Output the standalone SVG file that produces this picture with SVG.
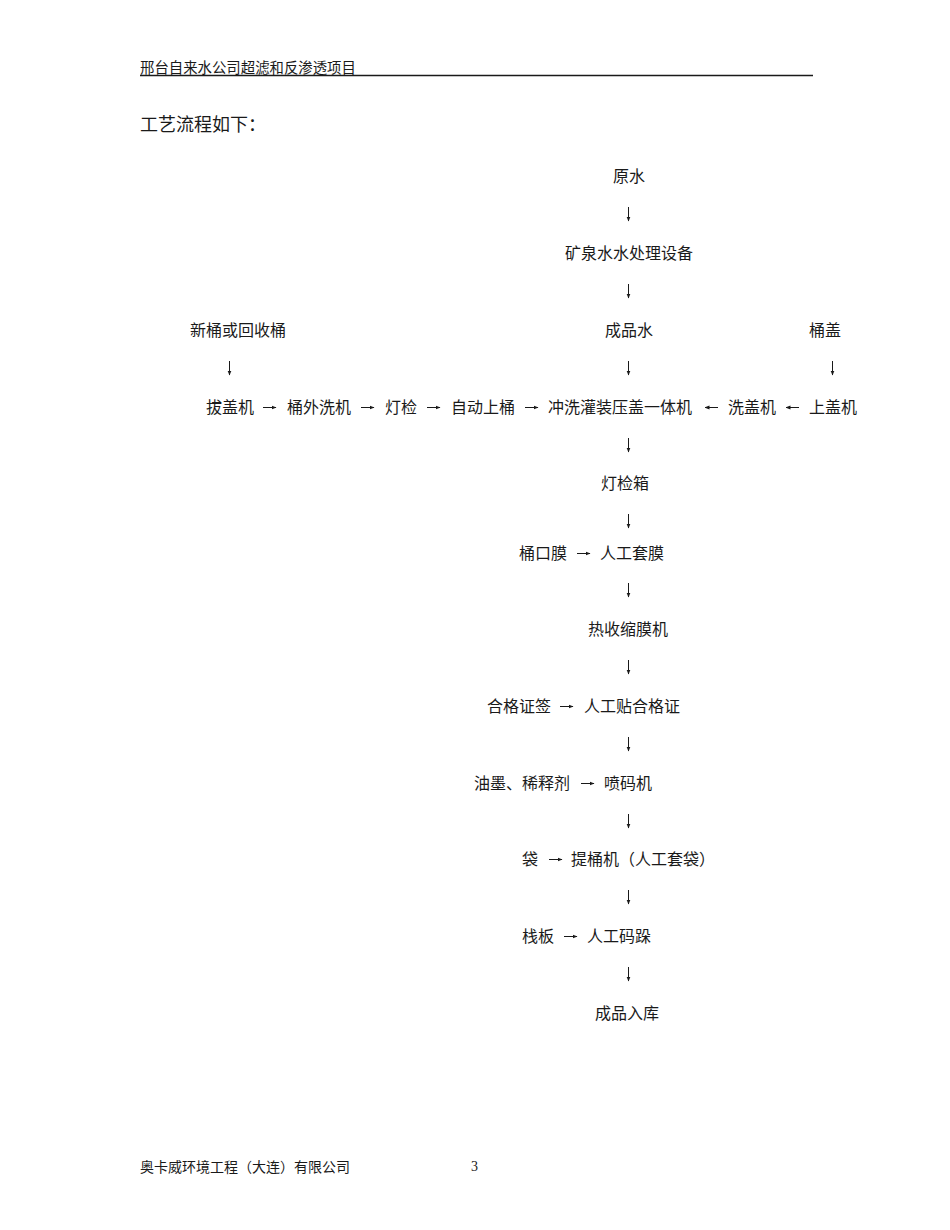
<svg xmlns="http://www.w3.org/2000/svg" width="950" height="1230" viewBox="0 0 950 1230">
<style>
.t{font-family:"Liberation Serif","Noto Sans CJK SC",serif;font-size:16px;fill:#1a1a1a}
.h{font-family:"Noto Sans CJK SC",sans-serif;font-size:14.4px;fill:#1a1a1a}
.ti{font-family:"Liberation Serif","Noto Sans CJK SC",serif;font-size:18px;fill:#1a1a1a}
.f{font-family:"Liberation Serif","Noto Sans CJK SC",serif;font-size:14px;fill:#1a1a1a}
.c{stroke:#1a1a1a;stroke-width:1;fill:none;marker-end:url(#ah)}
</style>
<defs>
<marker id="ah" viewBox="0 0 10 10" refX="9" refY="5" markerWidth="5" markerHeight="5" markerUnits="userSpaceOnUse" orient="auto">
<path d="M0,1 L10,5 L0,9 Z" fill="#1a1a1a"/>
</marker>
</defs>
<rect width="950" height="1230" fill="#fff"/>
<g id="header">
<text class="h" x="140" y="73">邢台自来水公司超滤和反渗透项目</text>
<line x1="140" y1="75.5" x2="813" y2="75.5" stroke="#1a1a1a" stroke-width="1.6"/>
</g>
<g id="title"><text class="ti" x="140" y="131">工艺流程如下：</text></g>
<g id="n-yuanshui"><text class="t" x="613" y="182">原水</text></g>
<g id="n-shebei"><text class="t" x="565" y="259">矿泉水水处理设备</text></g>
<g id="n-xintong"><text class="t" x="190" y="336">新桶或回收桶</text></g>
<g id="n-chengpinshui"><text class="t" x="605" y="336">成品水</text></g>
<g id="n-tonggai"><text class="t" x="809" y="336">桶盖</text></g>
<g id="n-bagaiji"><text class="t" x="206" y="413">拔盖机</text></g>
<g id="n-tongwaixiji"><text class="t" x="287" y="413">桶外洗机</text></g>
<g id="n-dengjian"><text class="t" x="385" y="413">灯检</text></g>
<g id="n-zidong"><text class="t" x="451" y="413">自动上桶</text></g>
<g id="n-yitiji"><text class="t" x="548" y="413">冲洗灌装压盖一体机</text></g>
<g id="n-xigaiji"><text class="t" x="728" y="413">洗盖机</text></g>
<g id="n-shanggaiji"><text class="t" x="809" y="413">上盖机</text></g>
<g id="n-dengjianxiang"><text class="t" x="601" y="489">灯检箱</text></g>
<g id="n-tongkoumo"><text class="t" x="519" y="559">桶口膜</text></g>
<g id="n-taomo"><text class="t" x="600" y="559">人工套膜</text></g>
<g id="n-reshousuo"><text class="t" x="588" y="635">热收缩膜机</text></g>
<g id="n-hegezhengqian"><text class="t" x="487" y="712">合格证签</text></g>
<g id="n-tiehegezheng"><text class="t" x="584" y="712">人工贴合格证</text></g>
<g id="n-youmo"><text class="t" x="474" y="789">油墨、稀释剂</text></g>
<g id="n-penmaji"><text class="t" x="604" y="789">喷码机</text></g>
<g id="n-dai"><text class="t" x="522" y="865">袋</text></g>
<g id="n-titongji"><text class="t" x="571" y="865">提桶机（人工套袋）</text></g>
<g id="n-zhanban"><text class="t" x="522" y="942">栈板</text></g>
<g id="n-maduo"><text class="t" x="587" y="942">人工码跺</text></g>
<g id="n-ruku"><text class="t" x="595" y="1019">成品入库</text></g>
<g id="connectors">
<path class="c" d="M628.5,207 V221"/>
<path class="c" d="M628.5,284 V298"/>
<path class="c" d="M229.5,361 V375"/>
<path class="c" d="M628.5,361 V375"/>
<path class="c" d="M832.5,361 V375"/>
<path class="c" d="M263,407.5 H276"/>
<path class="c" d="M361,407.5 H374"/>
<path class="c" d="M427,407.5 H440"/>
<path class="c" d="M525,407.5 H538"/>
<path class="c" d="M718,407.5 H705"/>
<path class="c" d="M799,407.5 H786"/>
<path class="c" d="M628.5,438 V452"/>
<path class="c" d="M628.5,514 V528"/>
<path class="c" d="M577,553.5 H590"/>
<path class="c" d="M628.5,583 V597"/>
<path class="c" d="M628.5,660 V674"/>
<path class="c" d="M560,706.5 H573"/>
<path class="c" d="M628.5,737 V751"/>
<path class="c" d="M581,783.5 H594"/>
<path class="c" d="M628.5,814 V828"/>
<path class="c" d="M549,859.5 H562"/>
<path class="c" d="M628.5,890 V904"/>
<path class="c" d="M564,936.5 H577"/>
<path class="c" d="M628.5,967 V981"/>
</g>
<g id="footer">
<text class="f" x="140" y="1172">奥卡威环境工程（大连）有限公司</text>
<text class="f" x="471" y="1171">3</text>
</g>
</svg>
